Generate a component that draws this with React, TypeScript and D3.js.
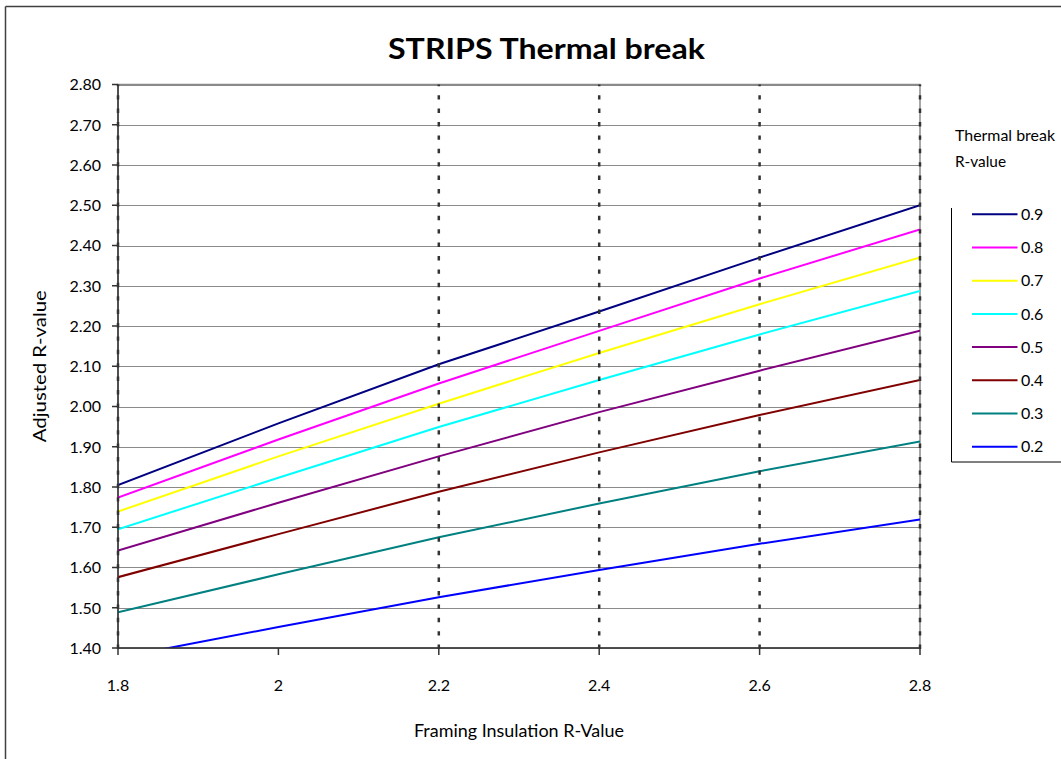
import React from "react";
import * as d3 from "d3";

const xValues = [1.8, 2.0, 2.2, 2.4, 2.6, 2.8];
const dropLineX = [1.8, 2.2, 2.4, 2.6, 2.8];
const xTicks = [1.8, 2, 2.2, 2.4, 2.6, 2.8];
const yTicks = [1.4, 1.5, 1.6, 1.7, 1.8, 1.9, 2.0, 2.1, 2.2, 2.3, 2.4, 2.5, 2.6, 2.7, 2.8];

const seriesNames = ["0.9", "0.8", "0.7", "0.6", "0.5", "0.4", "0.3", "0.2"];
const seriesColors = ["#000080", "#FF00FF", "#FFFF00", "#00FFFF", "#800080", "#800000", "#008080", "#0000FF"];
const s09 = [1.805, 1.958, 2.105, 2.236, 2.37, 2.5];
const s08 = [1.774, 1.918, 2.057, 2.188, 2.318, 2.44];
const s07 = [1.739, 1.876, 2.007, 2.133, 2.254, 2.37];
const s06 = [1.695, 1.823, 1.949, 2.066, 2.179, 2.287];
const s05 = [1.642, 1.761, 1.876, 1.986, 2.089, 2.188];
const s04 = [1.576, 1.683, 1.788, 1.886, 1.979, 2.066];
const s03 = [1.489, 1.583, 1.675, 1.759, 1.839, 1.913];
const s02 = [1.376, 1.452, 1.526, 1.594, 1.659, 1.719];
const seriesValues = [s09, s08, s07, s06, s05, s04, s03, s02];

const W = 1061;
const H = 759;
const L = 118, R = 920, T = 84.5, B = 648;
const FONT = "Lato, 'Open Sans', sans-serif";

export default function App() {
  const x = d3.scaleLinear().domain([1.8, 2.8]).range([L, R]);
  const y = d3.scaleLinear().domain([1.4, 2.8]).range([B, T]);
  const line = d3
    .line<number>()
    .x((_, i) => x(xValues[i]))
    .y((d) => y(d));
  const fmtY = d3.format(".2f");
  const fmtX = (v: number) => String(+v.toFixed(1));

  return (
    <svg
      width={W}
      height={H}
      style={{ position: "absolute", left: 0, top: 0, background: "#fff" }}
      fontFamily={FONT}
    >
      <defs>
        <clipPath id="plotclip">
          <rect x={L} y={T} width={R - L} height={B - T} />
        </clipPath>
      </defs>
      {/* outer frame */}
      <line x1={5.5} y1={6.5} x2={W} y2={6.5} stroke="#404040" strokeWidth={1.5} />
      <line x1={5.5} y1={6.5} x2={5.5} y2={H} stroke="#404040" strokeWidth={1.5} />

      {/* title */}
      <text x={546.5} y={59} textAnchor="middle" fontSize={28} fontWeight="bold" fill="#000" textLength={317} lengthAdjust="spacingAndGlyphs">
        STRIPS Thermal break
      </text>

      {/* gridlines */}
      {yTicks.map((t) => (
        <line key={"g" + t} x1={L} x2={R} y1={Math.round(y(t)) + 0.5} y2={Math.round(y(t)) + 0.5} stroke="#8a8a8a" strokeWidth={1} />
      ))}
      <rect x={L} y={T} width={R - L} height={B - T} fill="none" stroke="#8a8a8a" strokeWidth={1.5} />

      {/* series */}
      <g clipPath="url(#plotclip)">
        {seriesValues.map((vals, i) => (
          <path key={seriesNames[i]} d={line(vals) || ""} fill="none" stroke={seriesColors[i]} strokeWidth={2} />
        ))}
      </g>

      {/* dashed drop lines */}
      {dropLineX.map((v) => (
        <line key={"d" + v} x1={x(v)} x2={x(v)} y1={B + 1} y2={T} stroke="#333" strokeWidth={2.5} strokeDasharray="4.4 9" />
      ))}

      {/* y axis */}
      <line x1={L} x2={L} y1={T} y2={B} stroke="#333" strokeWidth={1.5} />
      {yTicks.map((t) => (
        <g key={"y" + t}>
          <line x1={L - 6} x2={L} y1={y(t)} y2={y(t)} stroke="#333" strokeWidth={1.5} />
          <text x={101} y={y(t)} dy="0.36em" textAnchor="end" fontSize={16} fill="#000">
            {fmtY(t)}
          </text>
        </g>
      ))}

      {/* x axis */}
      <line x1={L} x2={R} y1={B} y2={B} stroke="#333" strokeWidth={1.5} />
      {xTicks.map((t) => (
        <g key={"x" + t}>
          <line x1={x(t)} x2={x(t)} y1={B} y2={B + 7} stroke="#333" strokeWidth={1.5} />
          <text x={x(t)} y={691} textAnchor="middle" fontSize={16} fill="#000">
            {fmtX(t)}
          </text>
        </g>
      ))}

      {/* axis titles */}
      <text x={519} y={737} textAnchor="middle" fontSize={17} fill="#000" textLength={210} lengthAdjust="spacingAndGlyphs">
        Framing Insulation R-Value
      </text>
      <text transform={`translate(46, ${(T + B) / 2}) rotate(-90)`} textAnchor="middle" fontSize={17} fill="#000" textLength={152} lengthAdjust="spacingAndGlyphs">
        Adjusted R-value
      </text>

      {/* legend */}
      <text x={955} y={140.5} fontSize={15} fill="#000" textLength={100} lengthAdjust="spacingAndGlyphs">Thermal break</text>
      <text x={955} y={166.5} fontSize={15} fill="#000" textLength={51} lengthAdjust="spacingAndGlyphs">R-value</text>
      <line x1={951.5} x2={951.5} y1={208} y2={462} stroke="#000" strokeWidth={1} />
      <line x1={951.5} x2={W} y1={462} y2={462} stroke="#000" strokeWidth={1} />
      {seriesNames.map((n, i) => {
        const ly = 214.3 + i * 33.2;
        return (
          <g key={"l" + n}>
            <line x1={972} x2={1017.5} y1={ly} y2={ly} stroke={seriesColors[i]} strokeWidth={2} />
            <text x={1021} y={ly} dy="0.36em" fontSize={16} fill="#000">
              {n}
            </text>
          </g>
        );
      })}
    </svg>
  );
}
